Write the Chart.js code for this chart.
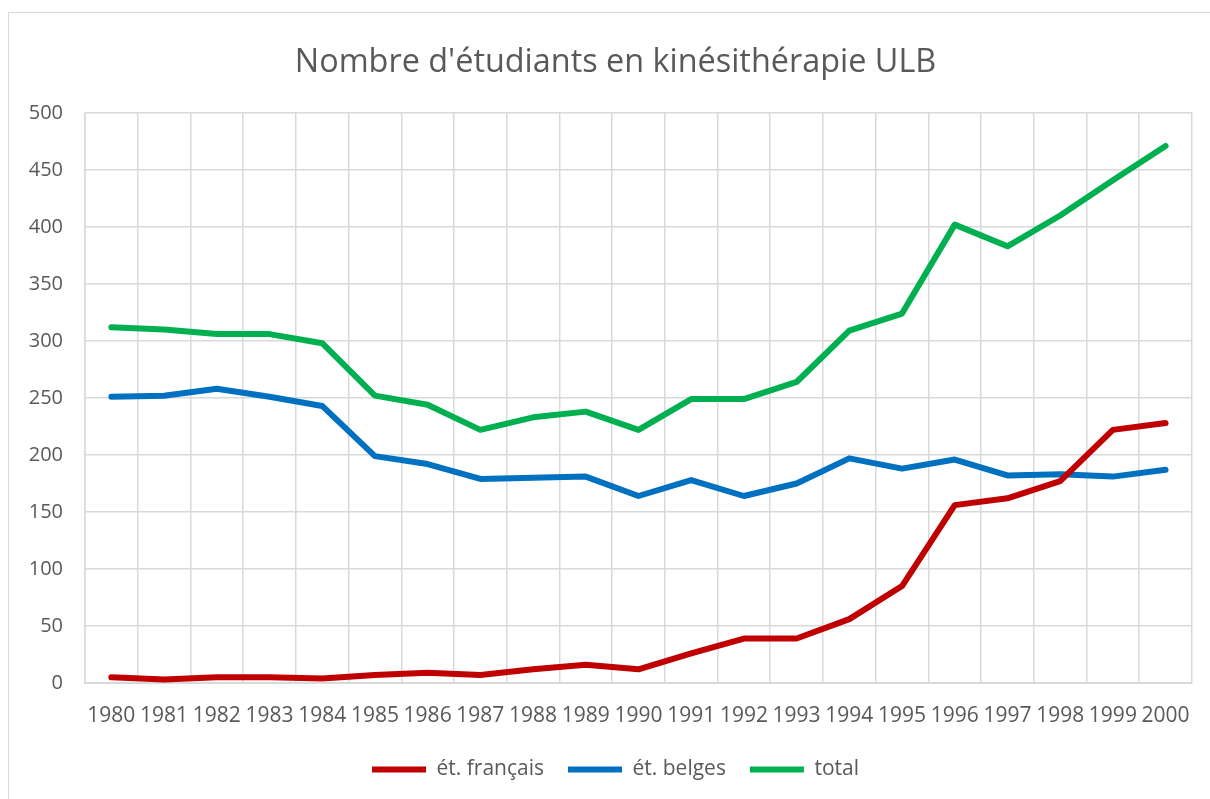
<!DOCTYPE html>
<html>
<head>
<meta charset="utf-8">
<script src="https://cdn.jsdelivr.net/npm/chart.js@4"></script>
<style>
    html, body { margin: 0; padding: 0; background: #fff; overflow: hidden; }
    #frame {
        position: absolute; left: 8px; top: 12px; width: 1300px; height: 900px;
        border: 1px solid #d9d9d9; box-sizing: border-box;
    }
    #chart { position: absolute; left: 0; top: 0; }
</style>
</head>
<body>
<div id="frame"></div>
<canvas id="chart" width="1210" height="799"></canvas>
<script>
    const years = ['1980', '1981', '1982', '1983', '1984', '1985', '1986', '1987', '1988', '1989', '1990',
        '1991', '1992', '1993', '1994', '1995', '1996', '1997', '1998', '1999', '2000'];
    const francais = [5, 3, 5, 5, 4, 7, 9, 7, 12, 16, 12, 26, 39, 39, 56, 85, 156, 162, 177, 222, 228];
    const belges = [251, 252, 258, 251, 243, 199, 192, 179, 180, 181, 164, 178, 164, 175, 197, 188, 196, 182, 183, 181, 187];
    const total = [312, 310, 306, 306, 298, 252, 244, 222, 233, 238, 222, 249, 249, 264, 309, 324, 402, 383, 410, 441, 471];

    const textColor = '#595959';
    const gridColor = '#d9d9d9';
    const fontFamily = '"Open Sans", sans-serif';

    function series(label, data, color) {
        return {
            label: label,
            data: data,
            borderColor: color,
            backgroundColor: color,
            borderWidth: 6,
            borderCapStyle: 'round',
            borderJoinStyle: 'round',
            pointRadius: 0,
            tension: 0,
            fill: false
        };
    }

    // title and legend are centred on the whole frame, not on the area left of the right padding
    const centreShift = {
        id: 'centreShift',
        afterLayout(chart) {
            [chart.titleBlock, chart.legend].forEach(box => {
                if (!box) return;
                box.left += 19;
                box.right += 19;
            });
        }
    };

    const ctx = document.getElementById('chart').getContext('2d');
    new Chart(ctx, {
        type: 'line',
        data: {
            labels: years,
            datasets: [
                series('ét. français', francais, '#c00000'),
                series('ét. belges', belges, '#0070c0'),
                series('total', total, '#00b050')
            ]
        },
        options: {
            responsive: false,
            animation: false,
            layout: { padding: { left: 0, right: 17, top: 0, bottom: 9 } },
            plugins: {
                title: {
                    display: true,
                    text: "Nombre d'étudiants en kinésithérapie ULB",
                    color: textColor,
                    font: { family: fontFamily, size: 32.4, weight: 'normal' },
                    padding: { top: 43, bottom: 31 }
                },
                legend: {
                    position: 'bottom',
                    labels: {
                        color: textColor,
                        font: { family: fontFamily, size: 21 },
                        usePointStyle: true,
                        pointStyle: 'line',
                        pointStyleWidth: 54,
                        padding: 24
                    }
                },
                tooltip: { enabled: false }
            },
            scales: {
                x: {
                    offset: true,
                    afterFit: function(scale) { scale.height = 52; },
                    grid: { offset: true, color: gridColor, lineWidth: 1.5, drawTicks: false },
                    border: { color: gridColor, width: 2 },
                    ticks: {
                        color: textColor,
                        font: { family: fontFamily, size: 21 },
                        padding: 20,
                        maxRotation: 0,
                        autoSkip: false
                    }
                },
                y: {
                    min: 0,
                    max: 500,
                    afterFit: function(scale) { scale.width = 85; },
                    grid: { color: gridColor, lineWidth: 1.5, drawTicks: false },
                    border: { color: gridColor, width: 1.5 },
                    ticks: {
                        stepSize: 50,
                        color: textColor,
                        font: { family: fontFamily, size: 20 },
                        padding: 22
                    }
                }
            }
        },
        plugins: [centreShift]
    });
</script>
</body>
</html>
